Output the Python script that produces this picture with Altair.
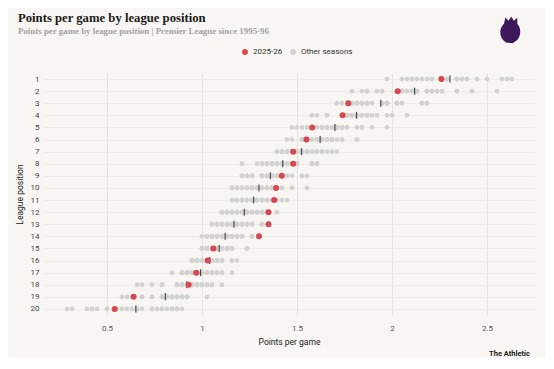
import altair as alt
import pandas as pd

positions = list(range(1, 21))

# Points totals for the 30 previous seasons (1995-96 to 2024-25) at each league position
other_points = [
    [82, 75, 78, 79, 91, 80, 87, 83, 90, 95, 91, 89, 87, 90, 86, 80, 89, 89, 86, 87, 81, 93, 100, 98, 99, 86, 93, 89, 91, 84],
    [78, 68, 77, 78, 73, 70, 80, 78, 79, 83, 83, 83, 85, 86, 85, 71, 89, 78, 84, 79, 71, 86, 81, 97, 81, 74, 92, 84, 89, 74],
    [71, 68, 65, 75, 69, 69, 77, 69, 75, 77, 82, 68, 83, 83, 75, 71, 70, 75, 82, 75, 70, 78, 77, 72, 66, 69, 74, 75, 82, 71],
    [63, 68, 63, 67, 67, 68, 71, 67, 60, 61, 67, 68, 76, 72, 70, 68, 69, 73, 79, 70, 66, 76, 75, 71, 66, 67, 71, 71, 68, 69],
    [63, 61, 59, 57, 65, 66, 66, 64, 56, 58, 65, 60, 65, 63, 67, 62, 65, 63, 72, 64, 66, 75, 70, 70, 62, 66, 69, 67, 66, 66],
    [61, 59, 58, 55, 58, 61, 64, 64, 56, 58, 63, 58, 60, 62, 64, 58, 64, 61, 69, 62, 63, 69, 63, 66, 59, 65, 58, 62, 63, 66],
    [53, 53, 54, 54, 54, 55, 55, 55, 56, 56, 56, 56, 57, 57, 57, 58, 58, 58, 59, 59, 59, 60, 60, 61, 61, 62, 62, 63, 64, 65],
    [46, 49, 50, 50, 51, 51, 51, 52, 52, 52, 53, 53, 53, 54, 54, 54, 55, 55, 55, 55, 56, 56, 56, 56, 57, 57, 60, 60, 61, 61],
    [46, 46, 47, 47, 48, 48, 48, 50, 50, 50, 50, 51, 51, 51, 51, 52, 52, 52, 52, 53, 53, 53, 54, 54, 55, 55, 56, 58, 58, 59],
    [44, 44, 45, 45, 46, 46, 46, 47, 47, 47, 48, 48, 48, 49, 49, 49, 50, 50, 50, 51, 51, 51, 52, 52, 52, 53, 53, 54, 56, 59],
    [44, 44, 44, 45, 45, 45, 46, 46, 46, 47, 47, 47, 47, 48, 48, 48, 48, 49, 49, 49, 50, 50, 50, 51, 51, 52, 52, 53, 54, 55],
    [42, 42, 42, 43, 43, 43, 44, 44, 44, 45, 45, 45, 46, 46, 46, 47, 47, 47, 47, 48, 48, 48, 49, 49, 49, 50, 50, 51, 51, 53],
    [40, 40, 41, 41, 41, 42, 42, 42, 43, 43, 43, 43, 44, 44, 44, 44, 45, 45, 45, 45, 46, 46, 46, 47, 47, 47, 48, 48, 50, 50],
    [38, 39, 39, 39, 40, 40, 40, 41, 41, 41, 41, 42, 42, 42, 42, 43, 43, 43, 43, 44, 44, 44, 45, 45, 45, 45, 46, 46, 48, 48],
    [38, 38, 38, 39, 39, 39, 39, 40, 40, 40, 40, 41, 41, 41, 41, 41, 42, 42, 42, 42, 42, 43, 43, 43, 43, 44, 44, 44, 47, 47],
    [36, 36, 36, 37, 37, 37, 37, 38, 38, 38, 38, 39, 39, 39, 39, 39, 40, 40, 40, 40, 41, 41, 41, 41, 42, 42, 42, 44, 44, 45],
    [32, 34, 34, 34, 35, 35, 35, 36, 36, 36, 36, 37, 37, 37, 37, 38, 38, 38, 39, 39, 39, 39, 40, 40, 40, 41, 41, 42, 42, 44],
    [25, 26, 28, 30, 30, 33, 33, 33, 34, 34, 34, 35, 35, 35, 35, 36, 36, 36, 36, 37, 37, 37, 38, 38, 38, 39, 39, 40, 40, 42],
    [22, 23, 23, 24, 26, 26, 28, 28, 30, 30, 30, 31, 31, 31, 31, 32, 32, 32, 32, 33, 33, 33, 33, 34, 34, 34, 35, 35, 35, 39],
    [29, 34, 33, 30, 24, 26, 28, 19, 33, 32, 15, 28, 11, 32, 19, 33, 25, 25, 30, 30, 17, 24, 31, 16, 21, 23, 22, 25, 16, 12],
]

# 2025-26 points per game so far
current_ppg = [2.26, 2.03, 1.77, 1.74, 1.58, 1.55, 1.48, 1.48, 1.42, 1.39,
               1.38, 1.35, 1.35, 1.30, 1.06, 1.03, 0.97, 0.93, 0.64, 0.54]

GAMES = 38
series_names = ["2025-26", "Other seasons"]
x_ticks = [0.5, 1, 1.5, 2, 2.5]
title_text = "Points per game by league position"
subtitle_text = "Points per game by league position | Premier League since 1995-96"
credit_text = "The Athletic"

rows_other = []
for pos, pts_list in zip(positions, other_points):
    for p in pts_list:
        rows_other.append({"pos": pos, "ppg": p / GAMES, "kind": series_names[1]})
df_other = pd.DataFrame(rows_other)
df_cur = pd.DataFrame({"pos": positions, "ppg": current_ppg, "kind": series_names[0]})

color = alt.Color(
    "kind:N",
    scale=alt.Scale(domain=series_names, range=["#d8474f", "#d2d2d0"]),
    legend=alt.Legend(
        title=None, orient="none", direction="horizontal",
        legendX=198, legendY=-25, symbolType="circle", symbolSize=34,
        labelFontSize=8, labelColor="#333", labelFont="Roboto",
        columnPadding=6, symbolStrokeWidth=0,
    ),
)

xenc = alt.X(
    "ppg:Q",
    scale=alt.Scale(domain=[0.163, 2.753], nice=False, zero=False),
    axis=alt.Axis(
        values=x_ticks, format="~g", grid=True, gridColor="#e3e3df", domain=False,
        ticks=False, labelColor="#555", labelFontSize=8, labelFont="Roboto",
        labelPadding=9, title="Points per game", titleFontSize=8.5,
        titleFontWeight="normal", titleColor="#222", titleFont="Roboto", titlePadding=5,
    ),
)
yenc = alt.Y(
    "pos:O",
    sort=positions,
    scale=alt.Scale(type="point", padding=0.5),
    axis=alt.Axis(
        grid=True, gridColor="#ecece8", domain=False, ticks=False,
        labelColor="#444", labelFontSize=8, labelFont="Roboto", labelPadding=4,
        title="League position", titleFontSize=8.5, titleFontWeight="normal",
        titleColor="#222", titleFont="Roboto", titlePadding=6,
    ),
)

others = alt.Chart(df_other).mark_circle(size=23, opacity=1).encode(x=xenc, y=yenc, color=color)
mean_tick = alt.Chart(df_other).mark_tick(color="#4a4a4a", thickness=1.2, size=7).encode(
    x="mean(ppg):Q", y=alt.Y("pos:O", sort=positions)
)
current = alt.Chart(df_cur).mark_circle(size=36, opacity=1).encode(x=xenc, y=yenc, color=color)

title_mark = alt.Chart(pd.DataFrame({"t": [title_text]})).mark_text(
    align="left", baseline="alphabetic", font="Liberation Serif", fontWeight="bold",
    fontSize=12.7, color="#1a1a1a"
).encode(text="t:N", x=alt.value(-25), y=alt.value(-51))

subtitle_mark = alt.Chart(pd.DataFrame({"t": [subtitle_text]})).mark_text(
    align="left", baseline="alphabetic", font="Liberation Serif", fontWeight="bold",
    fontSize=8.9, color="#a3a3a3"
).encode(text="t:N", x=alt.value(-25), y=alt.value(-39))

credit = alt.Chart(pd.DataFrame({"t": [credit_text]})).mark_text(
    align="right", baseline="alphabetic", font="Roboto", fontWeight="bold", fontSize=7.5, color="#222"
).encode(text="t:N", x=alt.value(487), y=alt.value(283))

logo = alt.Chart(pd.DataFrame({"t": ["logo"]})).mark_point(
    shape="M-0.45,-0.5 L-0.35,-0.95 L-0.12,-0.7 L0.1,-1 L0.3,-0.7 L0.55,-0.92 L0.55,-0.45 C0.85,-0.2 0.85,0.4 0.55,0.75 L0.2,1 L-0.3,0.95 C-0.7,0.7 -0.85,0.2 -0.65,-0.2 Z",
    filled=True, color="#3d195b", size=700, opacity=1,
).encode(x=alt.value(467), y=alt.value(-43))

chart = alt.layer(others, mean_tick, current, title_mark, subtitle_mark, credit, logo).properties(
    width=492, height=242,
    autosize=alt.AutoSizeParams(type="none"),
    padding={"left": 35, "top": 65, "right": 10, "bottom": 43},
).configure(background="#f7f6f2").configure_view(stroke=None)

chart.save("out.html", embed_options={"renderer": "svg", "actions": False})
